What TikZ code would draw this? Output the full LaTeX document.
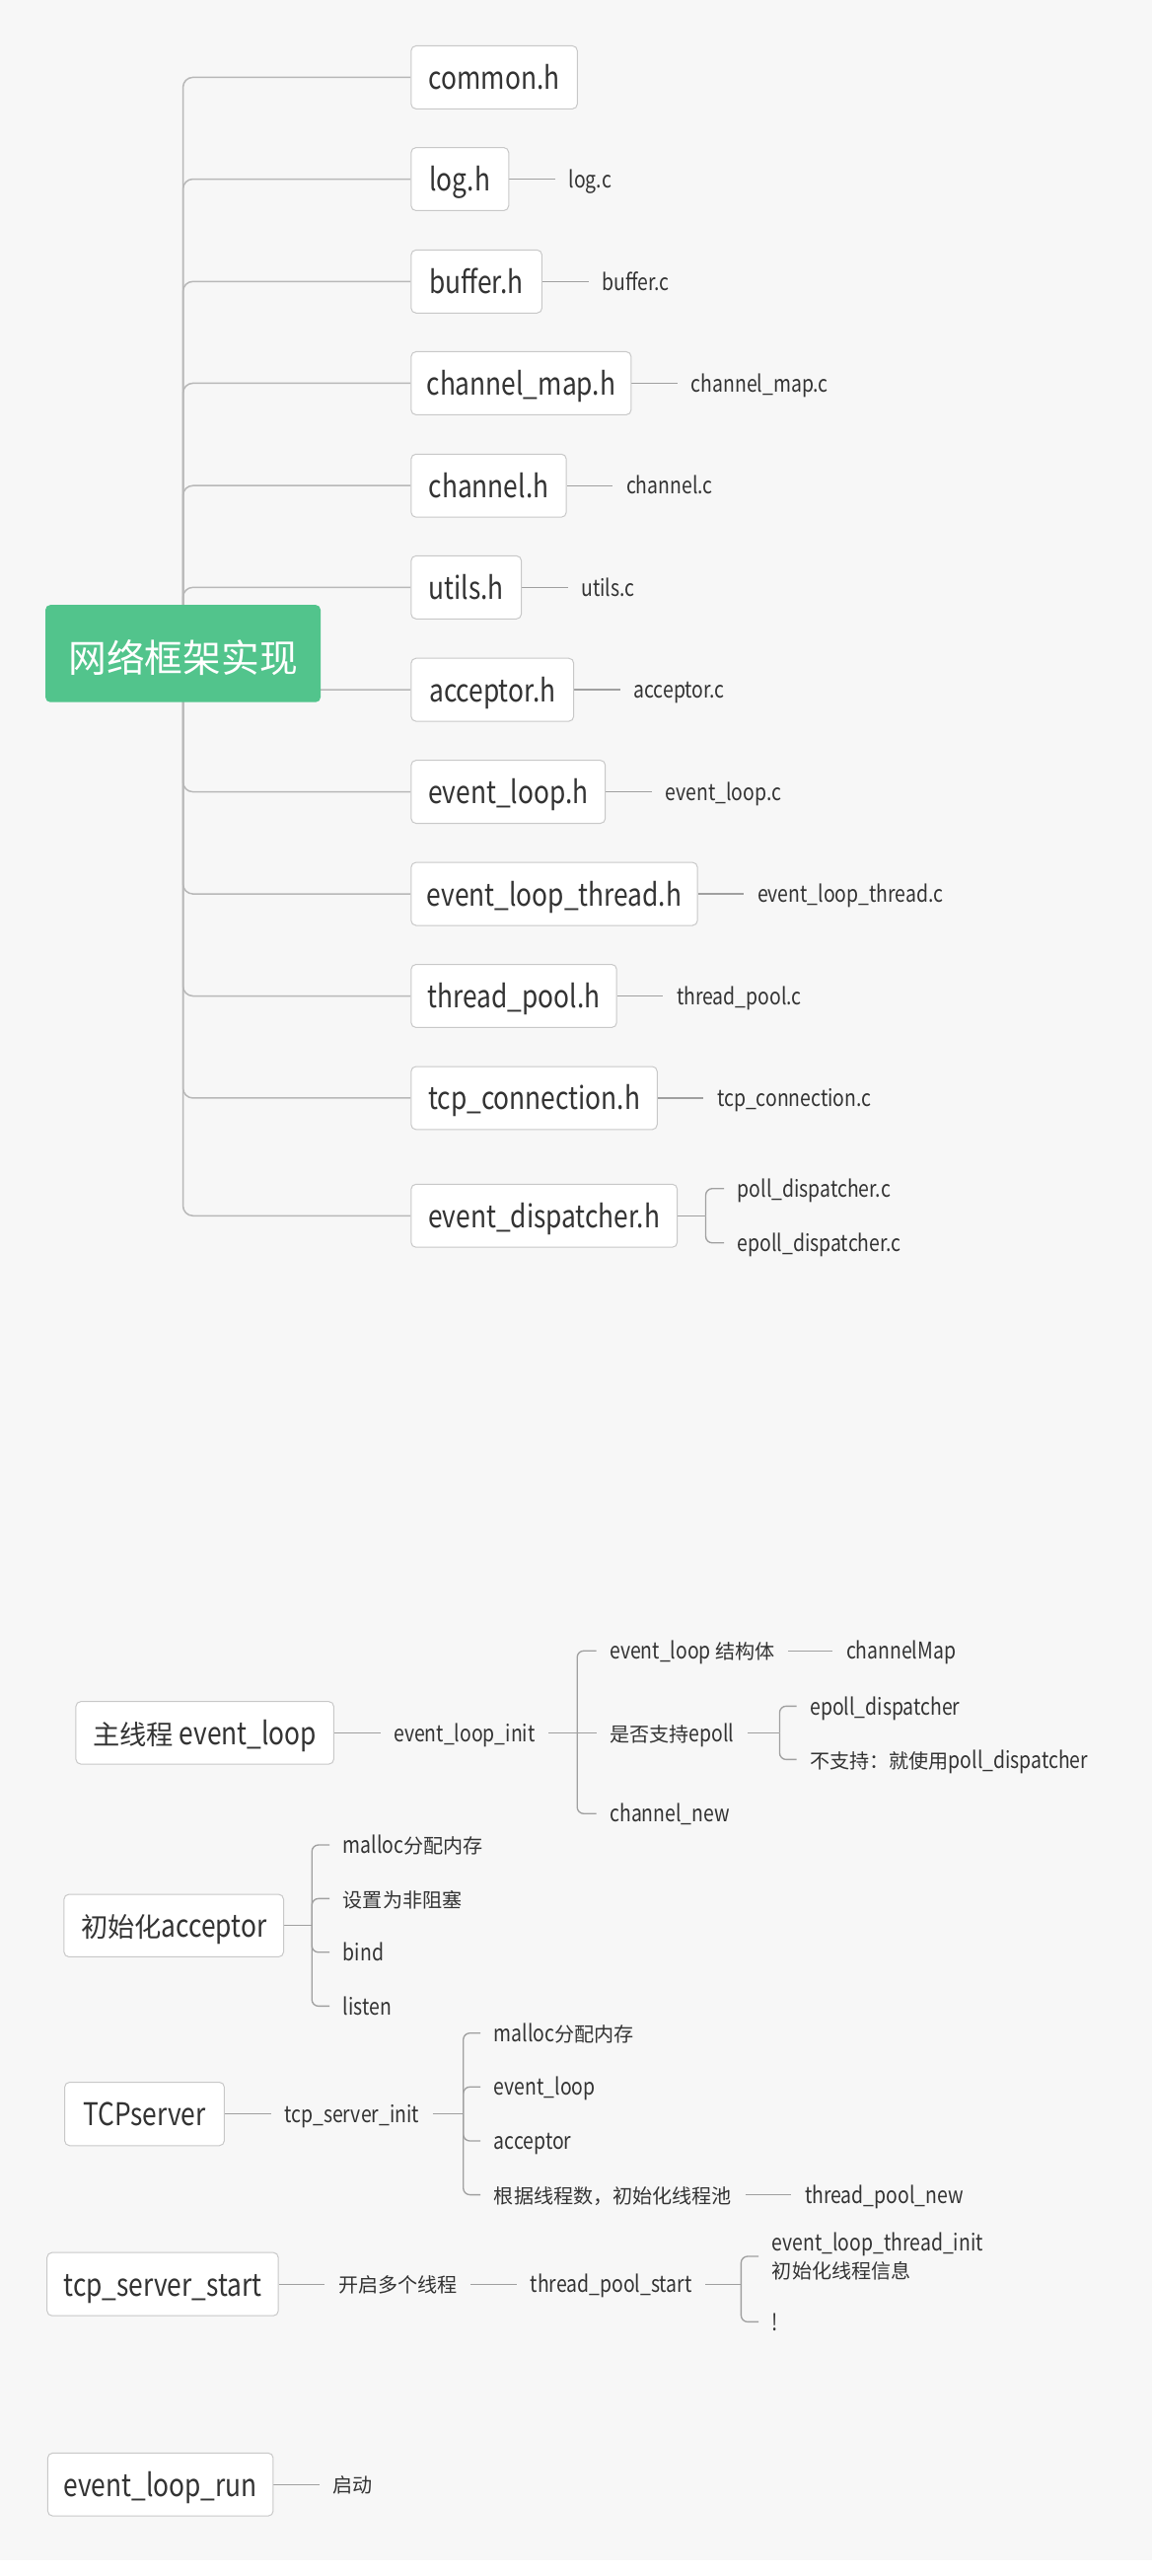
\documentclass[tikz,border=0pt]{standalone}
\usepackage{fontspec}
\setmainfont{Noto Sans CJK SC}[FakeStretch=0.83]
\newfontfamily\cjfont{Noto Sans CJK SC}[Scale=0.86]
\newcommand\cj[1]{{\cjfont #1}}
\usetikzlibrary{calc}
\pgfdeclarelayer{bglayer}
\pgfdeclarelayer{linelayer}
\pgfsetlayers{bglayer,linelayer,main}
\definecolor{bggray}{HTML}{F7F7F7}
\definecolor{rootgreen}{HTML}{52C48C}
\definecolor{txt}{HTML}{333333}
\definecolor{trunkc}{HTML}{B8B8B8}
\definecolor{subc}{HTML}{A0A0A0}
\definecolor{boxb}{HTML}{C8C8C8}
\tikzset{
  root/.style={fill=rootgreen, rounded corners=3pt, minimum width=167.2pt, minimum height=59.1pt, inner sep=0pt, text=white, font=\fontsize{27}{30}\selectfont, text height=22.6pt, text depth=0pt},
  topic/.style={draw=boxb, line width=0.6pt, fill=white, rounded corners=3pt, minimum height=38.3pt, inner sep=0pt, text=txt, font=\fontsize{19}{22}\selectfont, anchor=west, text height=14.4pt, text depth=0pt},
  leaf/.style={inner xsep=8pt, inner ysep=1pt, text=txt, font=\fontsize{14}{16.5}\selectfont, anchor=west, text height=10.4pt, text depth=0pt},
  leafml/.style={inner xsep=8pt, inner ysep=0pt, text=txt, font=\fontsize{14}{16.5}\selectfont, anchor=west, align=left},
  trunk/.style={draw=trunkc, line width=0.9pt, rounded corners=6pt},
  conn/.style={draw=subc, line width=0.8pt},
  forkline/.style={draw=subc, line width=0.8pt, rounded corners=4pt},
}
\begin{document}
\begin{tikzpicture}[x=1pt,y=-1pt]
\useasboundingbox (0,0) rectangle (700,1564.8);
\begin{pgfonlayer}{bglayer}
\fill[white] (0,0) rectangle (700,1564.8);
\fill[bggray] (0,0) rectangle (700,1555);
\end{pgfonlayer}

% ---------- upper mind map ----------
\node[root] (root) at (111.2,397) {\cj{网络框架实现}};

\node[topic, minimum width=101pt]   (common)   at (249.5,47)    {common.h};
\node[topic, minimum width=59.3pt]  (logh)     at (249.5,108.8) {log.h};
\node[topic, minimum width=79.5pt]  (bufferh)  at (249.5,171)   {buffer.h};
\node[topic, minimum width=133.7pt] (chmaph)   at (249.5,232.8) {channel\_map.h};
\node[topic, minimum width=94.3pt]  (channelh) at (249.5,295)   {channel.h};
\node[topic, minimum width=67pt]    (utilsh)   at (249.5,356.8) {utils.h};
\node[topic, minimum width=98.8pt]  (acceptorh) at (249.5,419)  {acceptor.h};
\node[topic, minimum width=118pt]   (evlooph)  at (249.5,481)   {event\_loop.h};
\node[topic, minimum width=174pt]   (evthreadh) at (249.5,543)  {event\_loop\_thread.h};
\node[topic, minimum width=124.9pt] (tpoolh)   at (249.5,605)   {thread\_pool.h};
\node[topic, minimum width=149.5pt] (tcpconnh) at (249.5,667)   {tcp\_connection.h};
\node[topic, minimum width=161.7pt] (evdisph)  at (249.5,738.5) {event\_dispatcher.h};

\node[leaf] (logc)      at ($(logh.east)+(28,0)$)      {log.c};
\node[leaf] (bufferc)   at ($(bufferh.east)+(28,0)$)   {buffer.c};
\node[leaf] (chmapc)    at ($(chmaph.east)+(28,0)$)    {channel\_map.c};
\node[leaf] (channelc)  at ($(channelh.east)+(28,0)$)  {channel.c};
\node[leaf] (utilsc)    at ($(utilsh.east)+(28,0)$)    {utils.c};
\node[leaf] (acceptorc) at ($(acceptorh.east)+(28,0)$) {acceptor.c};
\node[leaf] (evloopc)   at ($(evlooph.east)+(28,0)$)   {event\_loop.c};
\node[leaf] (evthreadc) at ($(evthreadh.east)+(28,0)$) {event\_loop\_thread.c};
\node[leaf] (tpoolc)    at ($(tpoolh.east)+(28,0)$)    {thread\_pool.c};
\node[leaf] (tcpconnc)  at ($(tcpconnh.east)+(28,0)$)  {tcp\_connection.c};

\coordinate (fd) at ($(evdisph.east)+(17,0)$);
\node[leaf] (pollc)  at (440,722) {poll\_dispatcher.c};
\node[leaf] (epollc) at (440,755) {epoll\_dispatcher.c};

\begin{pgfonlayer}{linelayer}
\foreach \t in {common,logh,bufferh,chmaph,channelh,utilsh,acceptorh,evlooph,evthreadh,tpoolh,tcpconnh,evdisph}
  \draw[trunk] (root.center) |- (\t.west);
\draw[conn] (logh.east) -- (logc.west);
\draw[conn] (bufferh.east) -- (bufferc.west);
\draw[conn] (chmaph.east) -- (chmapc.west);
\draw[conn] (channelh.east) -- (channelc.west);
\draw[conn] (utilsh.east) -- (utilsc.west);
\draw[conn] (acceptorh.east) -- (acceptorc.west);
\draw[conn] (evlooph.east) -- (evloopc.west);
\draw[conn] (evthreadh.east) -- (evthreadc.west);
\draw[conn] (tpoolh.east) -- (tpoolc.west);
\draw[conn] (tcpconnh.east) -- (tcpconnc.west);
\draw[conn] (evdisph.east) -- (fd);
\draw[forkline] (fd) |- (pollc.west);
\draw[forkline] (fd) |- (epollc.west);
\end{pgfonlayer}

% ---------- 主线程 event_loop ----------
\node[topic, minimum width=156.7pt, minimum height=38pt] (mainloop) at (45.8,1052.6) {\cj{主线程} event\_loop};
\node[leaf] (elinit) at ($(mainloop.east)+(28,0)$) {event\_loop\_init};
\coordinate (f1) at (350.7,1052.6);
\node[leaf] (elstruct) at (362.4,1002.8) {event\_loop \cj{结构体}};
\node[leaf] (epollq)   at (362.4,1052.6) {\cj{是否支持}epoll};
\node[leaf] (chnew)    at (362.4,1101.7) {channel\_new};
\node[leaf] (chmapn)   at ($(elstruct.east)+(27,0)$) {channelMap};
\coordinate (f2) at (473.7,1052.6);
\node[leaf] (epolld)   at (484,1036.4) {epoll\_dispatcher};
\node[leaf] (polld)    at (484,1068.8) {\cj{不支持：就使用}poll\_dispatcher};

% ---------- 初始化acceptor ----------
\node[topic, minimum width=133.4pt, minimum height=38pt] (initacc) at (38.6,1169.7) {\cj{初始化}acceptor};
\coordinate (f3) at (189.5,1169.7);
\node[leaf] (acc1) at (200.3,1120.7) {malloc\cj{分配内存}};
\node[leaf] (acc2) at (200.3,1153.3) {\cj{设置为非阻塞}};
\node[leaf] (acc3) at (200.3,1185.9) {bind};
\node[leaf] (acc4) at (200.3,1218.6) {listen};

% ---------- TCPserver ----------
\node[topic, minimum width=97pt, minimum height=38.5pt] (tcpserver) at (39,1284.1) {TCPserver};
\node[leaf] (tsinit) at ($(tcpserver.east)+(28,0)$) {tcp\_server\_init};
\coordinate (f4) at (281.5,1284.1);
\node[leaf] (ts1) at (292,1235)   {malloc\cj{分配内存}};
\node[leaf] (ts2) at (292,1267.7) {event\_loop};
\node[leaf] (ts3) at (292,1300.5) {acceptor};
\node[leaf] (ts4) at (292,1333.2) {\cj{根据线程数，初始化线程池}};
\node[leaf] (tpnew) at ($(ts4.east)+(28,0)$) {thread\_pool\_new};

% ---------- tcp_server_start ----------
\node[topic, minimum width=140.5pt, minimum height=38.4pt] (tsstart) at (28.3,1387.5) {tcp\_server\_start};
\node[leaf] (multi) at ($(tsstart.east)+(28,0)$) {\cj{开启多个线程}};
\node[leaf] (tpstart) at ($(multi.east)+(28,0)$) {thread\_pool\_start};
\coordinate (f5) at (450.3,1387.5);
\node[leafml] (elti) at (461,1370.6) {event\_loop\_thread\_init\\\cj{初始化线程信息}};
\node[leaf] (bang) at (461,1410.4) {!};

% ---------- event_loop_run ----------
\node[topic, minimum width=137pt, minimum height=38.2pt] (elrun) at (28.7,1509.2) {event\_loop\_run};
\node[leaf] (qidong) at ($(elrun.east)+(28,0)$) {\cj{启动}};

\begin{pgfonlayer}{linelayer}
\draw[conn] (mainloop.east) -- (elinit.west);
\draw[conn] (elinit.east) -- (f1);
\draw[forkline] (f1) |- (elstruct.west);
\draw[forkline] (f1) |- (chnew.west);
\draw[conn] (f1) -- (epollq.west);
\draw[conn] (elstruct.east) -- (chmapn.west);
\draw[conn] (epollq.east) -- (f2);
\draw[forkline] (f2) |- (epolld.west);
\draw[forkline] (f2) |- (polld.west);

\draw[conn] (initacc.east) -- (f3);
\foreach \c in {acc1,acc2,acc3,acc4} \draw[forkline] (f3) |- (\c.west);

\draw[conn] (tcpserver.east) -- (tsinit.west);
\draw[conn] (tsinit.east) -- (f4);
\foreach \c in {ts1,ts2,ts3,ts4} \draw[forkline] (f4) |- (\c.west);
\draw[conn] (ts4.east) -- (tpnew.west);

\draw[conn] (tsstart.east) -- (multi.west);
\draw[conn] (multi.east) -- (tpstart.west);
\draw[conn] (tpstart.east) -- (f5);
\draw[forkline] (f5) |- (elti.west);
\draw[forkline] (f5) |- (bang.west);

\draw[conn] (elrun.east) -- (qidong.west);
\end{pgfonlayer}
\end{tikzpicture}
\end{document}
